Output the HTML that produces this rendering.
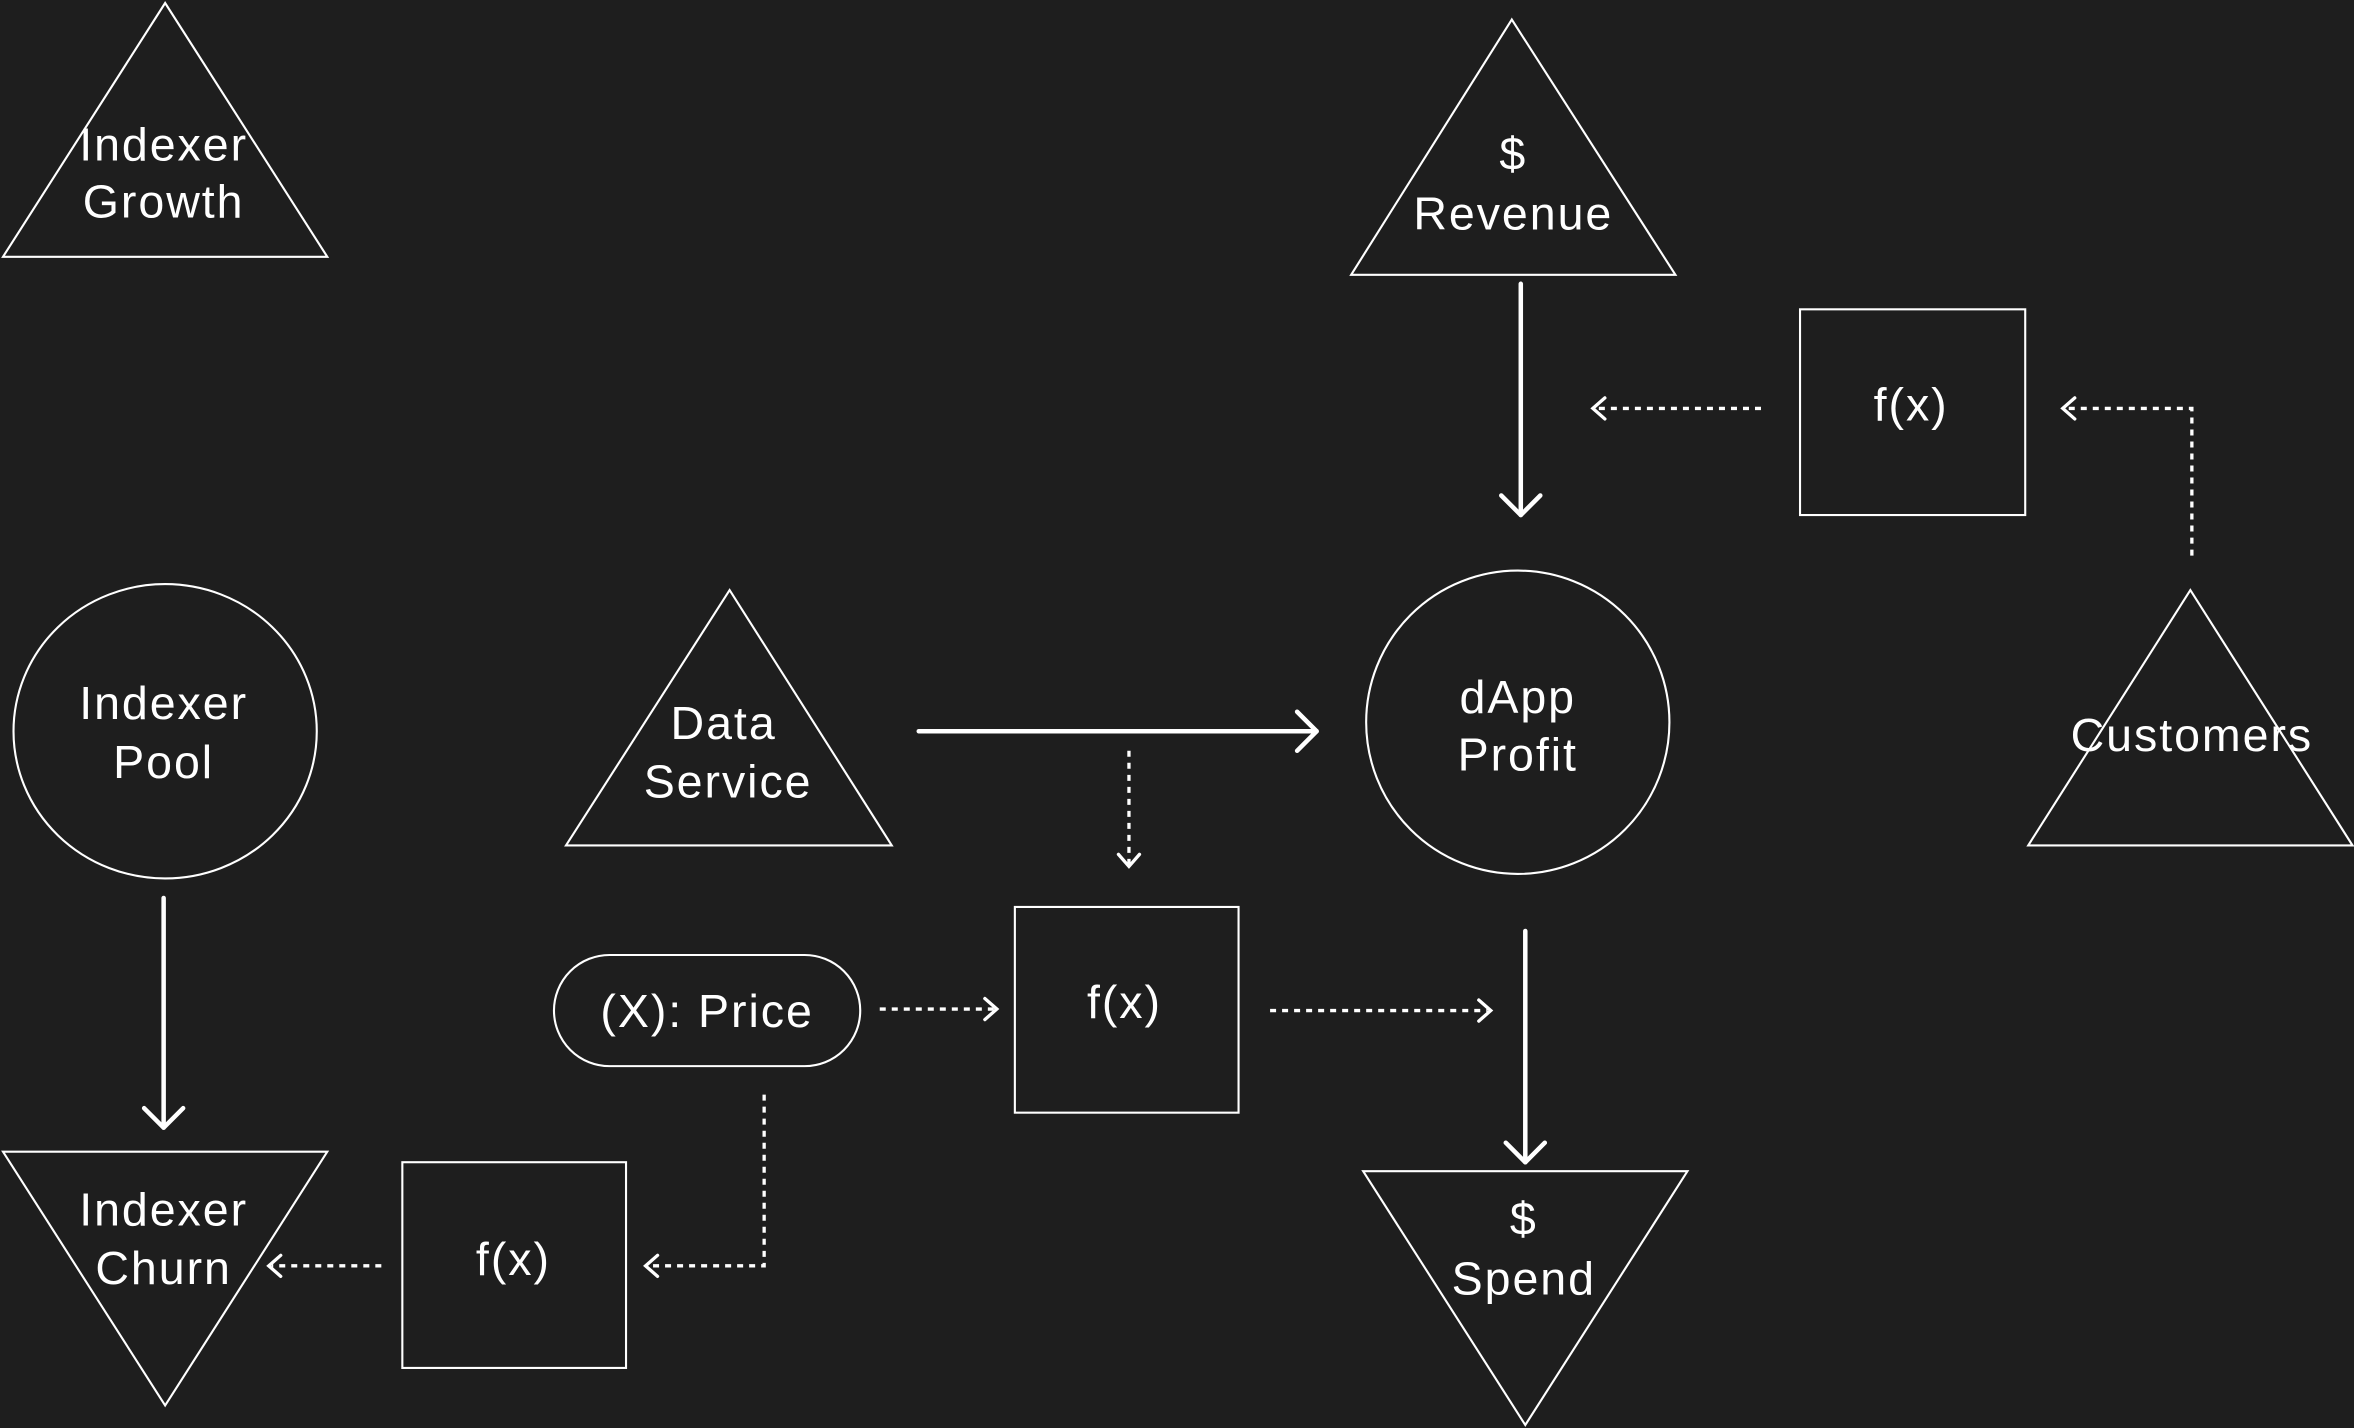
<!DOCTYPE html>
<html><head><meta charset="utf-8"><style>
html,body{margin:0;padding:0;background:#1e1e1e;}
svg{display:block}
text{font-family:"Liberation Sans",sans-serif;fill:#fff;font-size:31px;letter-spacing:1.3px;text-anchor:middle}
</style></head><body>
<svg width="2354" height="1428" viewBox="0 0 1568 951" preserveAspectRatio="none" xmlns="http://www.w3.org/2000/svg">
<rect width="1568" height="951" fill="#1e1e1e"/>
<g fill="none" stroke="#fff" stroke-width="1.4">
<polygon points="110,2 2,171 218,171"/>
<polygon points="1007,13 900,183 1116,183"/>
<rect x="1199" y="206" width="150" height="137"/>
<polygon points="1459,393 1351,563 1567,563"/>
<ellipse cx="110" cy="487" rx="101" ry="98"/>
<polygon points="486,393 377,563 594,563"/>
<ellipse cx="1011" cy="481" rx="101" ry="101"/>
<rect x="369" y="636" width="204" height="74" rx="37"/>
<rect x="676" y="604" width="149" height="137"/>
<polygon points="908,780 1124,780 1016,949"/>
<polygon points="2,767 218,767 110,936"/>
<rect x="268" y="774" width="149" height="137"/>
</g>
<g fill="none" stroke="#fff" stroke-width="3" stroke-linecap="round" stroke-linejoin="round">
<line x1="1013" y1="189" x2="1013" y2="343"/><polyline points="1000,330 1013,343 1026,330"/>
<line x1="612" y1="487" x2="877" y2="487"/><polyline points="864,474 877,487 864,500"/>
<line x1="1016" y1="620" x2="1016" y2="774"/><polyline points="1003,761 1016,774 1029,761"/>
<line x1="109" y1="598" x2="109" y2="751"/><polyline points="96,738 109,751 122,738"/>
</g>
<g fill="none" stroke="#fff" stroke-width="2.2" stroke-dasharray="4 4">
<line x1="1173" y1="272" x2="1062" y2="272"/>
<polyline points="1460,370 1460,272 1375,272"/>
<line x1="752" y1="500" x2="752" y2="576"/>
<line x1="586" y1="672" x2="662" y2="672"/>
<line x1="846" y1="673" x2="991" y2="673"/>
<polyline points="509,729 509,843 432,843"/>
<line x1="254" y1="843" x2="181" y2="843"/>
</g>
<g fill="none" stroke="#fff" stroke-width="2.2" stroke-linecap="round">
<polyline points="1069,265 1061,272 1069,279"/>
<polyline points="1382,265 1374,272 1382,279"/>
<polyline points="745,569 752,577 759,569"/>
<polyline points="656,665 664,672 656,679"/>
<polyline points="985,666 993,673 985,680"/>
<polyline points="438,836 430,843 438,850"/>
<polyline points="187,836 179,843 187,850"/>
</g>
<text x="109" y="107">Indexer</text><text x="109" y="145">Growth</text>
<text x="1008" y="113">$</text><text x="1008" y="153">Revenue</text>
<text x="1273" y="280">f(x)</text>
<text x="1460" y="500">Customers</text>
<text x="109" y="479">Indexer</text><text x="109" y="518">Pool</text>
<text x="482" y="492">Data</text><text x="485" y="531">Service</text>
<text x="1011" y="475">dApp</text><text x="1011" y="513">Profit</text>
<text x="471" y="684">(X): Price</text>
<text x="749" y="678">f(x)</text>
<text x="1015" y="822">$</text><text x="1015" y="862">Spend</text>
<text x="109" y="816">Indexer</text><text x="109" y="855">Churn</text>
<text x="342" y="849">f(x)</text>
</svg>
</body></html>
